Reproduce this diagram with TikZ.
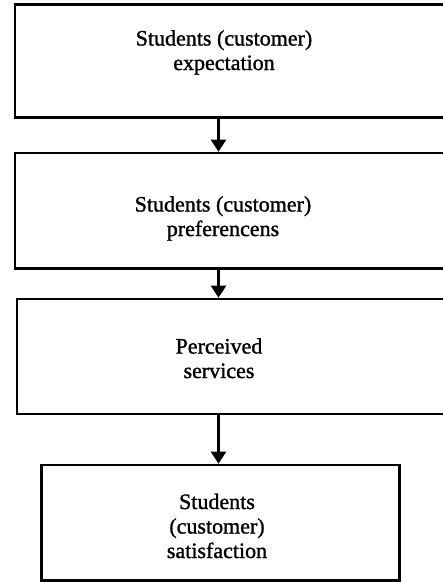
\documentclass[tikz,border=0pt]{standalone}
\usepackage{fontspec}
\setmainfont{Liberation Serif}
\newfontfamily\heavyserif[FakeBold=1.2]{Liberation Serif}
\usetikzlibrary{arrows.meta}
\begin{document}
\begin{tikzpicture}[x=1pt,y=-1pt,
  box/.style={draw=black,line width=2.6pt,rectangle,inner sep=0pt,fill=none},
  lbl/.style={align=center,inner sep=0pt,anchor=base,font=\heavyserif\fontsize{22}{24.5}\selectfont},
  flow/.style={line width=2.2pt,-{Triangle[width=15pt,length=12pt]}}]
\clip (0,0) rectangle (443,582);
\fill[white] (0,0) rectangle (443,582);
\coordinate (ax) at (218.5,0);
\node[box,minimum width=445pt,minimum height=113pt] (b1) at (237.5,61) {};
\node[box,minimum width=445pt,minimum height=115.5pt] (b2) at (237.5,210.75) {};
\node[box,minimum width=443pt,minimum height=115pt] (b3) at (238.5,356.5) {};
\node[box,minimum width=358pt,minimum height=115.5pt] (b4) at (220.5,522.75) {};
\node[lbl] (t1) at (224,70) {Students (customer)\\expectation};
\node[lbl] (t2) at (223,236) {Students (customer)\\preferencens};
\node[lbl] (t3) at (219,378) {Perceived\\services};
\node[lbl] (t4) at (217,558) {Students\\(customer)\\satisfaction};
\draw[flow] (b1.south -| ax) -- (b2.north -| ax);
\draw[flow] (b2.south -| ax) -- (b3.north -| ax);
\draw[flow] (b3.south -| ax) -- (b4.north -| ax);
\end{tikzpicture}
\end{document}
